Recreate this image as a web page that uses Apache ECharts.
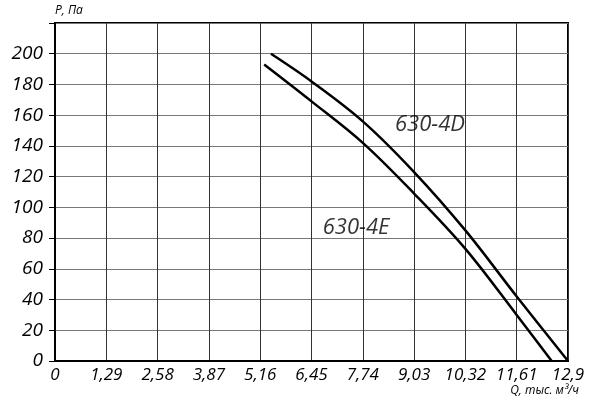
<!DOCTYPE html>
<html>
<head>
<meta charset="utf-8">
<script src="https://cdn.jsdelivr.net/npm/echarts@6/dist/echarts.min.js"></script>
<style>
  html, body { margin: 0; padding: 0; background: #fff; }
  #main { width: 591px; height: 405px; }
</style>
</head>
<body>
<div id="main"></div>
<script>
// характеристики вентиляторов
const xTicks = ['0', '1,29', '2,58', '3,87', '5,16', '6,45', '7,74', '9,03', '10,32', '11,61', '12,9']
const curve4D = [[5.43, 200], [6.45, 182], [7.74, 156], [9.03, 123], [10.32, 85], [11.61, 42], [12.9, 0]]
const curve4E = [[5.26, 193], [6.45, 169], [7.74, 142], [9.03, 109], [10.32, 73], [11.61, 30], [12.49, 0]]
const curveNames = ['630-4D', '630-4E']
const labelPos = [[9.43, 154], [7.57, 87]]

const font = '"Open Sans", "DejaVu Sans", sans-serif'

let myChart = echarts.init(document.getElementById('main'))

myChart.setOption({
  animation: false,
  backgroundColor: '#fff',
  grid: { left: 55, right: 23, top: 23, bottom: 44, show: true, borderColor: '#000', borderWidth: 2 },
  xAxis: {
    type: 'value', min: 0, max: 12.9, interval: 1.29,
    axisLine: { lineStyle: { color: '#000', width: 2 } },
    axisTick: { show: false },
    splitLine: { lineStyle: { color: '#333', width: 1 } },
    axisLabel: {
      color: '#000', fontFamily: font, fontStyle: 'italic', fontSize: 17, margin: 6,
      formatter: v => xTicks[Math.round(v / 1.29)]
    }
  },
  yAxis: {
    type: 'value', min: 0, max: 220, interval: 20,
    name: 'P, Па', nameGap: 6,
    nameTextStyle: { color: '#000', fontFamily: font, fontStyle: 'italic', fontSize: 12, align: 'left' },
    axisLine: { show: true, lineStyle: { color: '#000', width: 2 } },
    axisTick: { show: true, length: 6, lineStyle: { color: '#000', width: 1 } },
    splitLine: { lineStyle: { color: '#777', width: 1 } },
    axisLabel: {
      color: '#000', fontFamily: font, fontStyle: 'italic', fontSize: 19, margin: 12,
      formatter: v => (v > 200 ? '' : String(v))
    }
  },
  graphic: [{
    type: 'text', right: 12, top: 385,
    style: { text: 'Q, тыс. м³/ч', fill: '#000', font: 'italic 12px ' + font }
  }],
  series: [
    {
      name: curveNames[0], type: 'line', data: curve4D, smooth: 0.35, symbol: 'none',
      lineStyle: { color: '#000', width: 2.5 }
    },
    {
      name: curveNames[1], type: 'line', data: curve4E, smooth: 0.35, symbol: 'none',
      lineStyle: { color: '#000', width: 2.5 }
    },
    {
      type: 'scatter', symbolSize: 0, silent: true,
      data: labelPos.map((p, i) => ({ value: p, name: curveNames[i] })),
      label: {
        show: true, position: 'inside', formatter: '{b}',
        color: '#000', fontFamily: font, fontStyle: 'italic', fontSize: 22
      }
    }
  ]
})
</script>
</body>
</html>
